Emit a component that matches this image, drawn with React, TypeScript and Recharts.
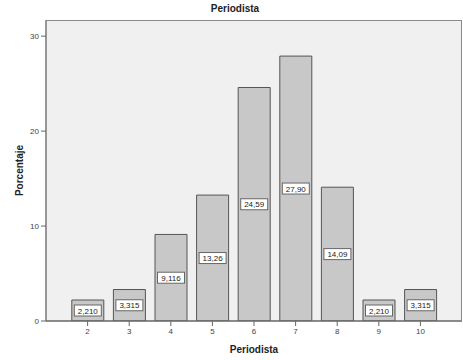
import React from 'react';
import { BarChart, Bar, XAxis, YAxis, CartesianGrid, LabelList, Label } from 'recharts';

const categories = ['2', '3', '4', '5', '6', '7', '8', '9', '10'];
const values = [2.21, 3.315, 9.116, 13.26, 24.59, 27.9, 14.09, 2.21, 3.315];
const valueLabels = ['2,210', '3,315', '9,116', '13,26', '24,59', '27,90', '14,09', '2,210', '3,315'];
const yTicks = [0, 10, 20, 30];

const data = categories.map((c, i) => ({ cat: c, value: values[i], label: valueLabels[i] }));

const FONT = '"Liberation Sans", Arial, sans-serif';

const BoxLabel = (props: any) => {
  const { x, y, width, height, value } = props;
  const cx = x + width / 2;
  const cy = y + height / 2;
  const w = String(value).length * 4.6 + 4;
  const h = 11;
  return (
    <g>
      <rect x={cx - w / 2} y={cy - h / 2} width={w} height={h} fill="#ffffff" stroke="#666" strokeWidth={1} />
      <text x={cx} y={cy + 3} textAnchor="middle" fontSize={8} fontFamily={FONT} fill="#222">
        {value}
      </text>
    </g>
  );
};

export default function App() {
  return (
    <div style={{ position: 'absolute', left: 0, top: 0, width: 463, height: 360, background: '#fff' }}>
      <div
        style={{
          position: 'absolute',
          left: 0,
          top: 3,
          width: 470,
          textAlign: 'center',
          fontFamily: FONT,
          fontWeight: 'bold',
          fontSize: 10,
          color: '#222',
        }}
      >
        Periodista
      </div>
      <BarChart
        width={463}
        height={360}
        data={data}
        margin={{ top: 20, right: 1, bottom: 0, left: 0 }}
        barCategoryGap={5}
      >
        <CartesianGrid horizontal={false} vertical={false} fill="#f0f0f0" />
        <XAxis
          dataKey="cat"
          padding={{ left: 20.8, right: 20.8 }}
          axisLine={{ stroke: '#666', strokeWidth: 1.5 }}
          tickLine={{ stroke: '#666' }}
          tickSize={5}
          tick={{ fontSize: 8, fill: '#444', fontFamily: FONT }}
          height={39}
          interval={0}
        >
          <Label value="Periodista" position="insideBottom" offset={7} style={{ fontSize: 10, fontWeight: 'bold', fill: '#222', fontFamily: FONT }} />
        </XAxis>
        <YAxis
          domain={[0, 31.7]}
          ticks={yTicks}
          allowDataOverflow
          width={46}
          axisLine={{ stroke: '#777', strokeWidth: 1.5 }}
          tickLine={{ stroke: '#666' }}
          tickSize={5}
          tick={{ fontSize: 8, fill: '#444', fontFamily: FONT }}
        >
          <Label value="Porcentaje" angle={-90} position="insideLeft" offset={19} style={{ fontSize: 10, fontWeight: 'bold', fill: '#222', fontFamily: FONT, textAnchor: 'middle' }} />
        </YAxis>
        <Bar dataKey="value" fill="#c8c8c8" stroke="#555" strokeWidth={1} barSize={32} isAnimationActive={false}>
          <LabelList dataKey="label" content={BoxLabel} />
        </Bar>
      </BarChart>
      <div
        style={{
          position: 'absolute',
          left: 46,
          top: 20,
          width: 416,
          height: 301,
          border: '1px solid #8a8a8a',
          borderBottom: 'none',
          borderLeft: 'none',
          boxSizing: 'border-box',
          pointerEvents: 'none',
        }}
      />
    </div>
  );
}
